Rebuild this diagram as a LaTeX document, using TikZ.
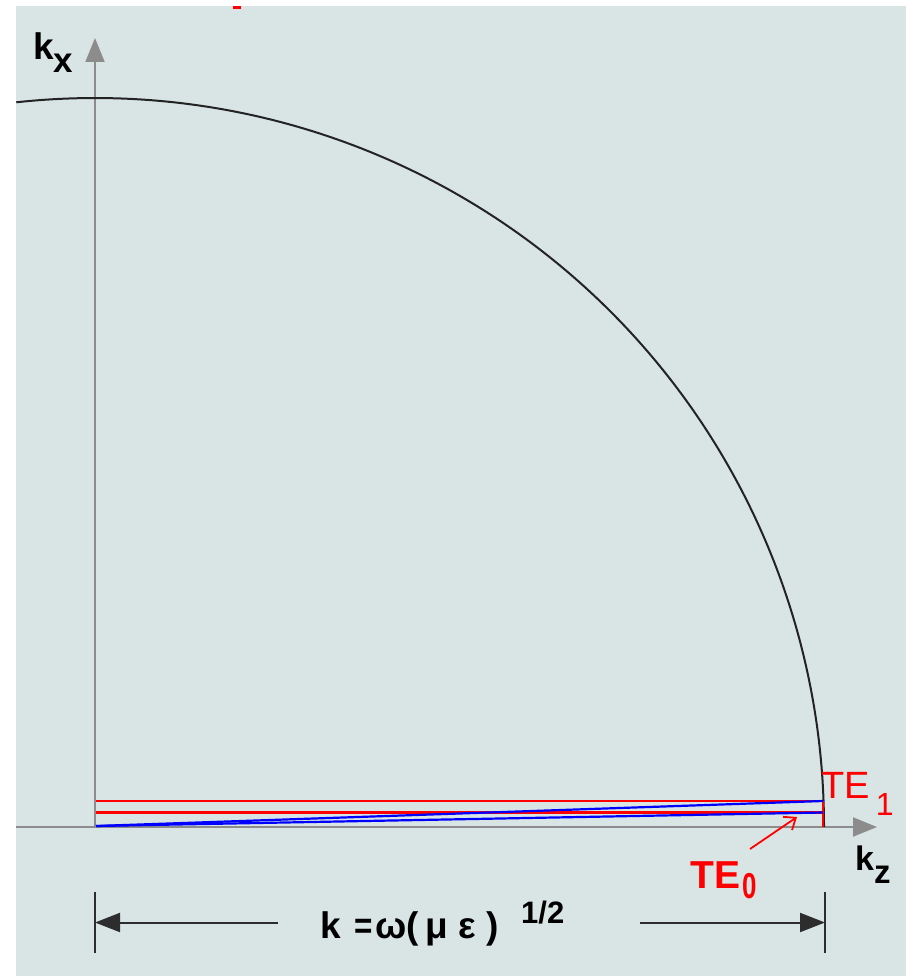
\documentclass[tikz,border=0pt]{standalone}
\usepackage{fontspec}
\setmainfont{Liberation Sans}
\usetikzlibrary{arrows.meta}
\definecolor{bgc}{RGB}{216,229,228}
\definecolor{axisgray}{RGB}{140,140,140}
\definecolor{dimgray}{RGB}{45,45,45}
\definecolor{arcgray}{RGB}{35,35,35}
\begin{document}
\begin{tikzpicture}[x=1pt,y=-1pt,
  axis/.style={draw=axisgray,line width=2pt,-{Triangle[length=24pt,width=19pt]}},
  arcline/.style={draw=arcgray,line width=2pt},
  redline/.style={draw=red,line width=2.2pt},
  blueline/.style={draw=blue,line width=2.2pt},
  dimline/.style={draw=dimgray,line width=2pt},
  dimarrow/.style={dimline,-{Triangle[length=25pt,width=19pt]}},
  lbl/.style={inner sep=0pt,anchor=base west},
  formula/.style={lbl,font=\fontsize{37}{37}\selectfont\bfseries}]
\fill[white] (0,0) rectangle (906,976);
\fill[bgc] (16,6) rectangle (906,976);
\useasboundingbox (0,0) rectangle (906,976);
\fill[red] (233,6) rectangle (241,9);
% axes
\coordinate (O) at (95,827);
\coordinate (xstart) at (16,827);
\coordinate (kzTip) at (877,827);
\coordinate (kxTip) at (95,38);
\draw[axis] (xstart) -- (kzTip);
\draw[axis] (O) -- (kxTip);
% circle arc
\draw[arcline] (824,827) arc[start angle=0,end angle=-96.2,radius=729];
% mode lines
\coordinate (r1a) at (96,801);
\coordinate (r1b) at (823,801);
\coordinate (r2a) at (96,812.5);
\coordinate (r2b) at (823,812.5);
\coordinate (rv) at (823,827);
\coordinate (bO) at (96,826);
\draw[redline] (r1a) -- (r1b);
\draw[redline] (r2a) -- (r2b);
\draw[redline] (r1b) -- (rv);
\draw[blueline] (bO) -- (r1b);
\draw[blueline] (bO) -- (r2b);
% dimension
\coordinate (eLt) at (95,892);
\coordinate (eLb) at (95,953);
\coordinate (eRt) at (825,892);
\coordinate (eRb) at (825,953);
\coordinate (dL) at (95,922.5);
\coordinate (dR) at (825,922.5);
\coordinate (gL) at (278,922.5);
\coordinate (gR) at (640,922.5);
\draw[dimline] (eLt) -- (eLb);
\draw[dimline] (eRt) -- (eRb);
\draw[dimarrow] (gL) -- (dL);
\draw[dimarrow] (gR) -- (dR);
% labels
\node[lbl,font=\fontsize{37}{37}\selectfont\bfseries] (kx) at (33,60)
  {k\raisebox{-13pt}{\fontsize{35}{35}\selectfont x}};
\node[lbl,font=\fontsize{34}{34}\selectfont\bfseries] (kz) at (855,870)
  {k\raisebox{-13pt}{\fontsize{33}{33}\selectfont z}};
\node[lbl,text=red,font=\fontsize{38}{38}\selectfont] (TE1) at (821,798)
  {TE\hspace{6pt}\raisebox{-17pt}{\fontsize{32}{32}\selectfont 1}};
\node[lbl,text=red,font=\fontsize{39}{39}\selectfont\bfseries] (TE0) at (690,888)
  {TE\hspace{2pt}\raisebox{-10pt}{\fontsize{36}{36}\selectfont\scalebox{0.72}[1]{0}}};
\coordinate (aT) at (750,849);
\coordinate (aH) at (797,817);
\draw[red,line width=1.8pt,-{Straight Barb[length=10pt,width=16pt]}] (aT) -- (aH);
% formula k = omega (mu epsilon)^{1/2}
\node[formula] (fk)   at (320,938) {k};
\node[formula] (feq)  at (354,938) {\scalebox{0.85}[1]{=}};
\node[formula] (fom)  at (375,938) {ω};
\node[formula] (flp)  at (406,938) {(};
\node[formula] (fmu)  at (425,938) {μ};
\node[formula] (feps) at (458,938) {ε};
\node[formula] (frp)  at (486,938) {)};
\node[lbl,font=\fontsize{31}{31}\selectfont\bfseries] (fexp) at (521,923) {1/2};
\end{tikzpicture}
\end{document}
